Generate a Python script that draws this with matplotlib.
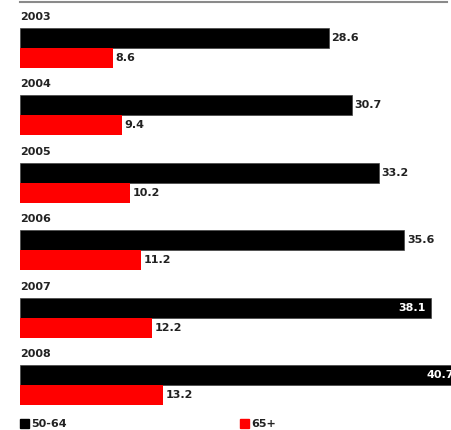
import matplotlib.pyplot as plt
from matplotlib.patches import Rectangle

years = ["2003", "2004", "2005", "2006", "2007", "2008"]
age_50_64 = [28.6, 30.7, 33.2, 35.6, 38.1, 40.7]
age_65_plus = [8.6, 9.4, 10.2, 11.2, 12.2, 13.2]
series_labels = ["50-64", "65+"]

W, H = 451, 430
fig = plt.figure(figsize=(W / 100, H / 100), dpi=100)

# axes run from the bar baseline (x=20px) to the right edge, full height
left = 20 / W
ax = fig.add_axes([left, 0, 1 - left, 1])
gap = 67.4            # px between groups
first = 48            # px from top to first group centre
ax.set_ylim((H - first) / gap, -first / gap)
ax.set_xlim(0, (W - 20) / 10.8)
ax.axis("off")

bh = 20 / gap
txt = "#222222"
font = dict(family="DejaVu Sans", fontweight="bold", fontsize=8)

for i, (yr, a, b) in enumerate(zip(years, age_50_64, age_65_plus)):
    ax.barh(i - bh / 2, a, height=bh, color="black", edgecolor="#444444", linewidth=0.5)
    ax.barh(i + bh / 2, b, height=bh, color="#ff0000", linewidth=0)
    ax.text(0, i - 0.46, yr, va="center", ha="left", color=txt, **font)
    if a > 37:
        ax.text(a - 0.55, i - bh / 2, f"{a:.1f}", va="center", ha="right",
                color="white", clip_on=True, **font)
    else:
        ax.text(a + 0.25, i - bh / 2, f"{a:.1f}", va="center", ha="left", color=txt, **font)
    ax.text(b + 0.25, i + bh / 2, f"{b:.1f}", va="center", ha="left", color=txt, **font)

# top rule
fig.add_artist(plt.Line2D([20 / W, 447 / W], [1 - 1.5 / H, 1 - 1.5 / H],
                          color="#8a8a8a", linewidth=1.5))

# legend
for x0, col, lab in [(20, "black", series_labels[0]), (240, "#ff0000", series_labels[1])]:
    fig.add_artist(Rectangle((x0 / W, 1 - 428 / H), 9 / W, 9 / H, color=col,
                             transform=fig.transFigure))
    fig.text((x0 + 11) / W, 1 - 424 / H, lab, va="center", ha="left", color=txt, **font)

fig.savefig("out.png", dpi=100)
